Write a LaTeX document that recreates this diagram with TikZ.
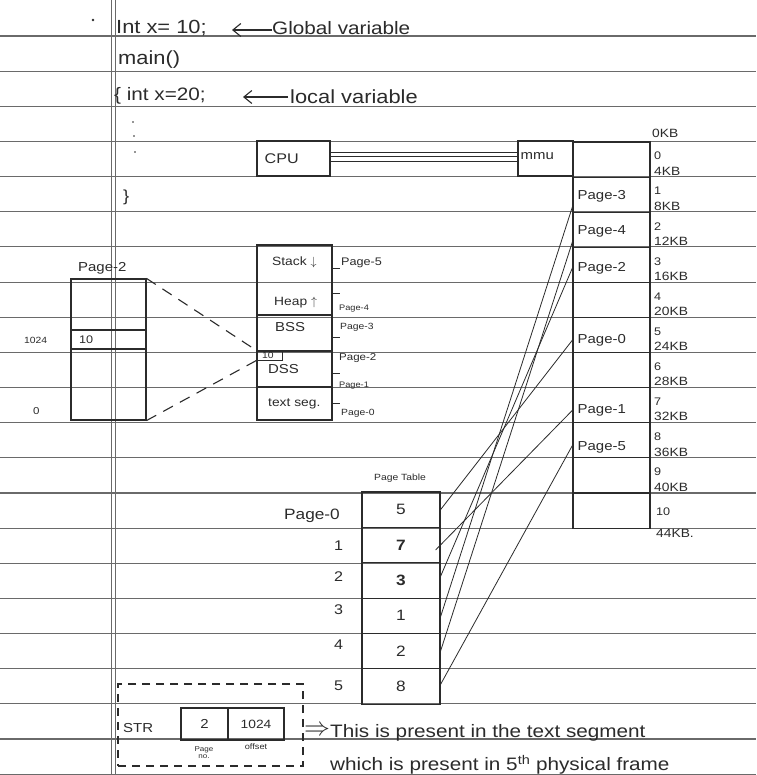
\documentclass[tikz,border=0pt]{standalone}
\usepackage{fontspec}
\setmainfont{Liberation Sans}[FakeStretch=1.15]
\usetikzlibrary{arrows.meta}
\definecolor{inkc}{HTML}{2B2B2B}
\definecolor{rulec}{HTML}{6A6A6A}

\begin{document}
\begin{tikzpicture}[x=1pt,y=-1pt,
  ink/.style={draw=inkc,line width=1.1pt},
  thin/.style={draw=inkc,line width=0.8pt},
  ruling/.style={draw=rulec,line width=1.1pt},
  box/.style={ink,rectangle,inner sep=0pt,text=inkc},
  txt/.style={text=inkc,inner sep=0pt,anchor=west},
  fs/.style={font=\fontsize{#1}{#1}\selectfont},
  dashy/.style={ink,dash pattern=on 11pt off 8pt},
  barb/.style={draw=inkc,line width=1.1pt,-{Straight Barb[length=8pt,width=13pt,line width=1.1pt]}}]

% sheet of ruled paper
\fill[white] (0,0) rectangle (756,775);
\useasboundingbox (0,0) rectangle (756,775);
\foreach \k in {0,...,21}
  \draw[ruling] (0,{36+35.15*\k}) -- (756,{36+35.15*\k});
\draw[rulec,line width=0.8pt] (111,0) -- (111,775) (115,0) -- (115,775);

% program text
\fill[inkc] (93,20) circle (1.3);
\node[txt,fs=19] (gdecl) at (116,28) {Int x= 10;};
\node[txt,fs=18] (glabel) at (272,28) {Global variable};
\draw[barb] ([yshift=-2pt]glabel.west) -- ++(-40,0);
\node[txt,fs=19] (mainf) at (118,60) {main()};
\node[txt,fs=18] (ldecl) at (114,96) {\{ int x=20;};
\node[txt,fs=19] (llabel) at (290,97) {local variable};
\draw[barb] ([xshift=-2pt]llabel.west) -- ++(-45,0);
\fill[inkc] (133,122) circle (0.9) (134,136) circle (0.9) (135,152) circle (0.9);
\node[txt,fs=16] (closeb) at (123,197) {\}};

% CPU and MMU
\node[box,minimum width=73pt,minimum height=35pt] (cpu) at (293.5,158.5) {};
\node[txt,fs=14] at ([xshift=8pt]cpu.west) {CPU};
\node[box,minimum width=55pt,minimum height=35pt] (mmu) at (545.5,158.5) {};
\node[txt,fs=13] at ([xshift=3pt,yshift=2pt]mmu.west) {mmu};
\foreach \s in {6,2,-2.5}
  \draw[thin] ([yshift=\s pt]cpu.east) -- ([yshift=\s pt]mmu.west);

% physical memory frames
\foreach \k in {0,...,10}
  \node[box,minimum width=77pt,minimum height=35.1pt] (f\k) at (611.5,{142+35.1*(\k+0.5)}) {};
\foreach \k/\lab/\dy in {1/Page-3/-2,2/Page-4/-2,3/Page-2/-3,5/Page-0/-5,7/Page-1/-5,8/Page-5/-7}
  \node[txt,fs=13] at ([xshift=5pt,yshift=\dy pt]f\k.west) {\lab};
\node[txt,fs=12] at (652,133) {0KB};
\foreach \k [evaluate=\k as \kb using int(4*(\k+1))] in {0,...,9}{
  \node[txt,fs=11] at (654,{142+35.1*\k+14}) {\k};
  \node[txt,fs=12] at (654,{142+35.1*(\k+1)-6}) {\kb KB};
}
\node[txt,fs=11] at (656,512) {10};
\node[txt,fs=12] at (656,533) {44KB.};

% logical address space of the process
\node[box,minimum width=75pt,minimum height=70pt] (stk) at (294.5,280) {};
\node[box,minimum width=75pt,minimum height=36pt] (bss) at (294.5,333) {};
\node[box,minimum width=75pt,minimum height=36pt] (dss) at (294.5,369) {};
\node[box,minimum width=75pt,minimum height=33pt] (tseg) at (294.5,403.5) {};
\node[txt,fs=12] at (272,262) {Stack $\downarrow$};
\node[txt,fs=12] at (274,303) {Heap $\uparrow$};
\node[txt,fs=13] at (275,327) {BSS};
\node[txt,fs=13] at (268,369) {DSS};
\node[txt,fs=12] at (268,404) {text seg.};
\draw[thin] ([yshift=-10pt]dss.north west) -- ++(26,0) -- ++(0,-10);
\node[txt,fs=9] at (262,355) {10};
\foreach \ty in {268,293,337,373,403}
  \draw[thin] (333,\ty) -- (340,\ty);
\node[txt,fs=11] at (341,263) {Page-5};
\node[txt,fs=8] at (339,309) {Page-4};
\node[txt,fs=9] at (340,327) {Page-3};
\node[txt,fs=10] at (339,358) {Page-2};
\node[txt,fs=8] at (339,386) {Page-1};
\node[txt,fs=9] at (341,413) {Page-0};

% page 2 in detail
\node[txt,fs=13] (pg2lab) at (78,268) {Page-2};
\node[box,minimum width=75pt,minimum height=51pt] (pgtop) at (108.5,304.5) {};
\node[box,minimum width=75pt,minimum height=19pt] (pgoff) at (108.5,339.5) {};
\node[box,minimum width=75pt,minimum height=71pt] (pgbot) at (108.5,384.5) {};
\node[txt,fs=11] at (79,340) {10};
\node[txt,fs=9] at (24,340) {1024};
\node[txt,fs=10] at (33,411) {0};
\draw[dashy] (pgtop.north east) -- (dss.north west);
\draw[dashy] (pgbot.south east) -- ([yshift=-10pt]dss.north west);

% page table
\node[txt,fs=9] (ptlab) at (374,478) {Page Table};
\foreach \k/\v in {0/5,1/{\bfseries 7},2/{\bfseries 3},3/1,4/2,5/8}
  \node[box,minimum width=78pt,minimum height=35.35pt,fs=15] (p\k) at (401,{492+35.35*(\k+0.5)}) {\v};
\node[txt,fs=15] at (284,516) {Page-0};
\foreach \k/\yy in {1/546,2/577,3/610,4/645,5/686}
  \node[txt,fs=14] at (334,\yy) {\k};

% page table entries to frames
\draw[thin] (p0.east) -- ([yshift=-5pt]f5.west);
\draw[thin] ([xshift=-5pt,yshift=-5pt]p1.east) -- ([yshift=-5pt]f7.west);
\draw[thin] ([yshift=4pt]p2.east) -- ([yshift=-3pt]f3.west);
\draw[thin] ([yshift=-1pt]p3.east) -- ([yshift=-12pt]f1.west);
\draw[thin] (p4.east) -- ([yshift=-12pt]f2.west);
\draw[thin] ([yshift=2pt]p5.east) -- ([yshift=-5pt]f8.west);

% logical address
\node[box,dash pattern=on 8pt off 6pt,minimum width=185pt,minimum height=82pt] (addr) at (210.5,725) {};
\node[txt,fs=13] at (123,728) {STR};
\node[box,minimum width=47pt,minimum height=32pt,fs=13] (pno) at (204.5,724) {2};
\node[box,minimum width=56pt,minimum height=32pt,fs=12] (off) at (256,724) {1024};
\node[fs=7,align=center,text=inkc,inner sep=0pt] at (204,753) {Page\\no.};
\node[fs=8,text=inkc,inner sep=0pt] at (256,747) {offset};
\node[txt,fs=18] (impl) at (304,731) {\scalebox{1.5}{$\Rightarrow$}};
\node[txt,fs=18] at (330,733) {This is present in the text segment};
\node[txt,fs=18] at (330,765) {which is present in 5\textsuperscript{th} physical frame};
\end{tikzpicture}
\end{document}
